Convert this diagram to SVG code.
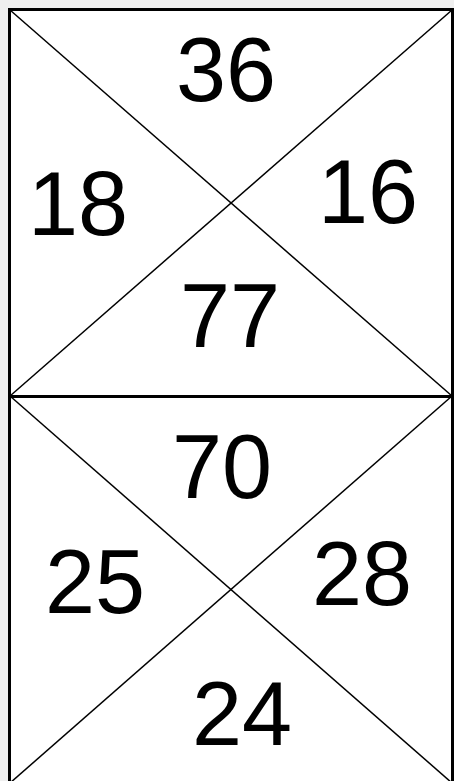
<svg xmlns="http://www.w3.org/2000/svg" width="454" height="781" viewBox="0 0 454 781">
<style>
.n{font-family:"Liberation Sans",Arial,sans-serif;font-size:90px;fill:#000;text-anchor:middle}
.d{stroke:#000;stroke-width:1.5;fill:none}
.b{stroke:#000;stroke-width:3;fill:none}
</style>
<rect x="0" y="0" width="454" height="781" fill="#efefef"/>
<rect x="9.5" y="9.5" width="443" height="780" fill="#fff"/>
<g id="connectors">
<line class="d" x1="10" y1="10" x2="452" y2="396"/>
<line class="d" x1="452" y1="10" x2="10" y2="396"/>
<line class="d" x1="10" y1="396" x2="452" y2="783"/>
<line class="d" x1="452" y1="396" x2="10" y2="783"/>
<rect class="b" x="9.5" y="9.5" width="443" height="780"/>
<line class="b" x1="9.5" y1="396.5" x2="452.5" y2="396.5"/>
</g>
<g id="n36"><text class="n" x="226" y="101">36</text></g>
<g id="n18"><text class="n" x="78" y="235">18</text></g>
<g id="n16"><text class="n" x="368" y="223">16</text></g>
<g id="n77"><text class="n" x="230" y="347">77</text></g>
<g id="n70"><text class="n" x="222" y="498">70</text></g>
<g id="n25"><text class="n" x="95" y="613">25</text></g>
<g id="n28"><text class="n" x="362" y="605">28</text></g>
<g id="n24"><text class="n" x="242" y="745">24</text></g>
</svg>
